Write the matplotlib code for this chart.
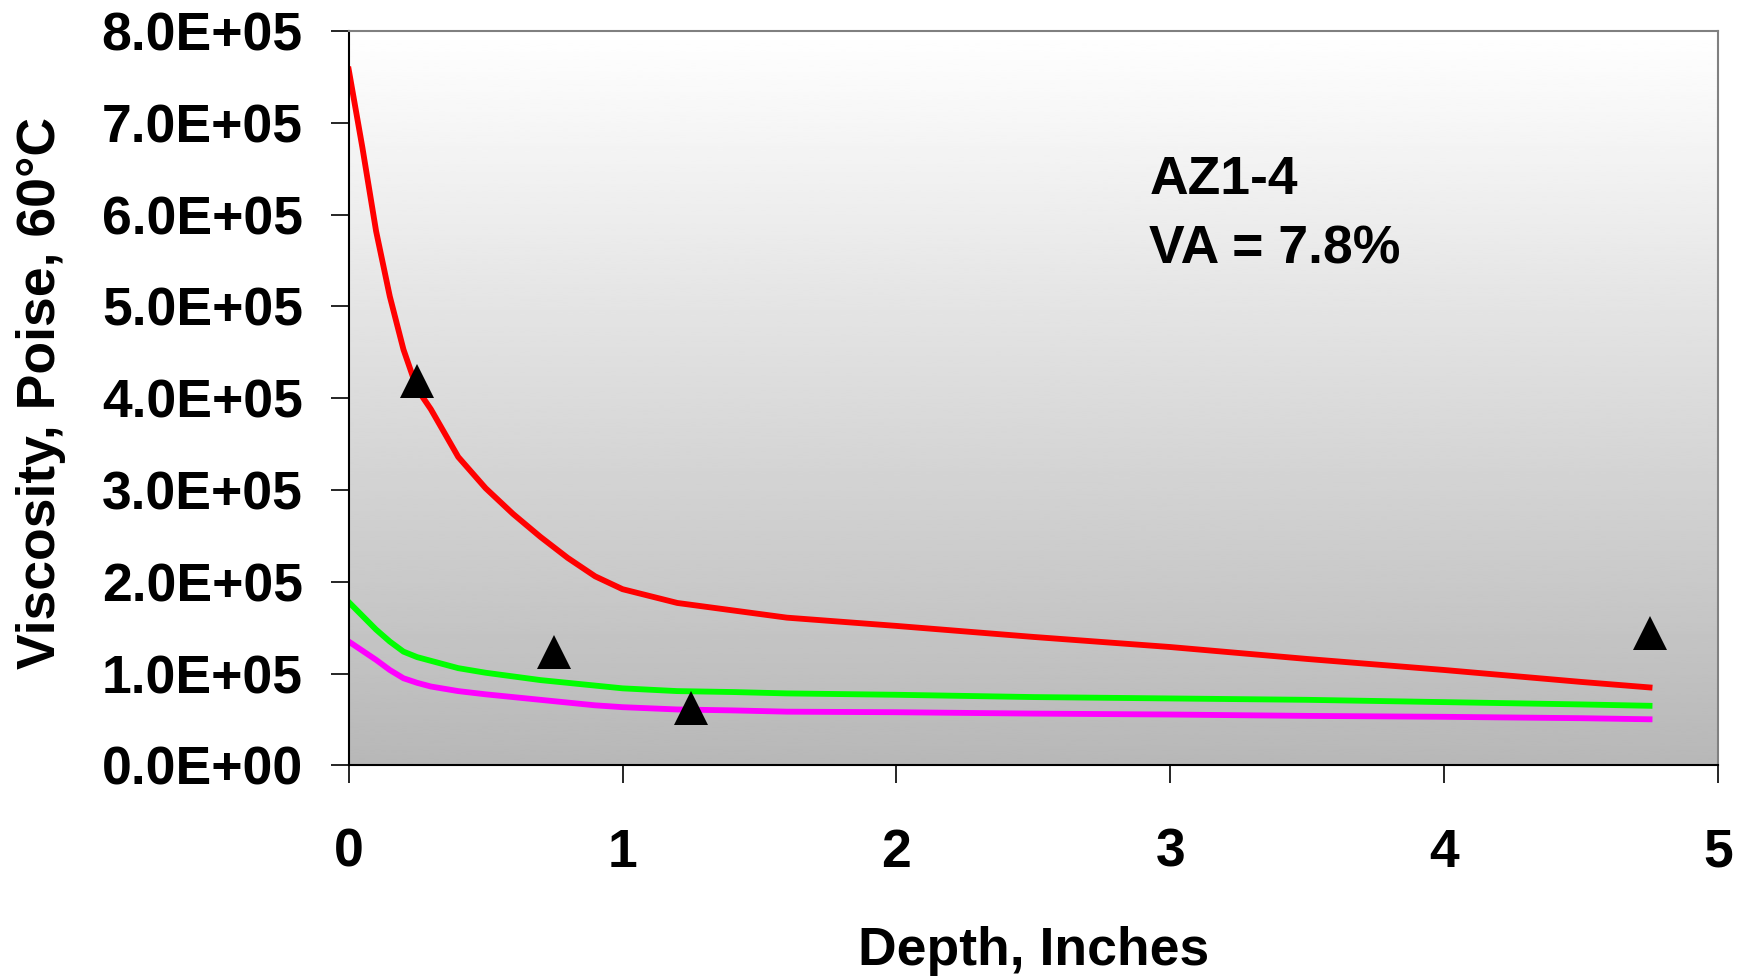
## Viscosity vs depth profile, AZ1-4
#----------------------------
import numpy as np
import matplotlib.pyplot as plt
from matplotlib.ticker import FuncFormatter, MultipleLocator

plt.rcParams['font.family'] = ['Liberation Sans', 'DejaVu Sans']
plt.rcParams['font.weight'] = 'bold'

# depth in inches, shared by the three model curves
depth = [0, 0.05, 0.1, 0.15, 0.2, 0.25, 0.3, 0.4, 0.5, 0.6, 0.7, 0.8, 0.9,
         1.0, 1.2, 1.4, 1.6, 2.0, 2.5, 3.0, 3.5, 4.0, 4.5, 4.75]

# viscosity at 60C, poise
visc_red = [7.58e5, 6.73e5, 5.82e5, 5.11e5, 4.53e5, 4.10e5, 3.88e5, 3.36e5,
            3.02e5, 2.74e5, 2.49e5, 2.26e5, 2.06e5, 1.92e5, 1.77e5, 1.69e5,
            1.61e5, 1.52e5, 1.40e5, 1.29e5, 1.16e5, 1.04e5, 0.91e5, 0.85e5]
visc_green = [1.78e5, 1.63e5, 1.48e5, 1.35e5, 1.24e5, 1.18e5, 1.14e5, 1.06e5,
              1.01e5, 0.97e5, 0.93e5, 0.90e5, 0.87e5, 0.84e5, 0.81e5, 0.80e5,
              0.785e5, 0.77e5, 0.745e5, 0.73e5, 0.715e5, 0.69e5, 0.665e5, 0.65e5]
visc_magenta = [1.35e5, 1.25e5, 1.15e5, 1.04e5, 0.95e5, 0.90e5, 0.86e5, 0.81e5,
                0.775e5, 0.745e5, 0.715e5, 0.685e5, 0.655e5, 0.635e5, 0.61e5, 0.60e5,
                0.586e5, 0.58e5, 0.565e5, 0.555e5, 0.54e5, 0.53e5, 0.515e5, 0.503e5]

# measured field cores
core_depth = [0.25, 0.75, 1.25, 4.75]
core_visc = [4.19e5, 1.24e5, 0.63e5, 1.44e5]

fig = plt.figure(figsize=(17.47, 9.76), dpi=100)
ax = fig.add_axes([0.1996, 0.2157, 0.7838, 0.7526])

# grey gradient behind the plot area, white at top
shade = np.linspace(0.72, 1.0, 256).reshape(-1, 1)
ax.imshow(shade, cmap='gray', vmin=0, vmax=1, origin='lower', aspect='auto',
          extent=[0, 5, 0, 8e5], zorder=0, interpolation='bilinear')

ax.plot(depth, visc_red, color='#ff0000', lw=4.2, zorder=2)
ax.plot(depth, visc_green, color='#00ff00', lw=4.2, zorder=2)
ax.plot(depth, visc_magenta, color='#ff00ff', lw=4.2, zorder=2)
ax.plot(core_depth, core_visc, linestyle='none', marker='^', ms=24.5,
        mew=0, color='black', zorder=3)

ax.set_xlim(0, 5)
ax.set_ylim(0, 8e5)
ax.xaxis.set_major_locator(MultipleLocator(1))
ax.yaxis.set_major_locator(MultipleLocator(1e5))
ax.yaxis.set_major_formatter(FuncFormatter(lambda v, pos: '%.1E' % v))

ax.tick_params(axis='both', direction='out', length=13, width=1.2,
               labelsize=38.5, colors='black')
ax.tick_params(axis='x', pad=32)
ax.tick_params(axis='y', pad=20)

for side in ['left', 'bottom']:
    ax.spines[side].set_color('black')
    ax.spines[side].set_linewidth(1.5)
for side in ['top', 'right']:
    ax.spines[side].set_color('#808080')
    ax.spines[side].set_linewidth(1.5)

ax.set_xlabel('Depth, Inches', fontsize=38.5, fontweight='bold')
ax.set_ylabel('Viscosity, Poise, 60°C', fontsize=38.5, fontweight='bold')
ax.xaxis.set_label_coords(0.5, -0.218)
ax.yaxis.set_label_coords(-0.2065, 0.507)

ax.text(2.924, 6.65e5, 'AZ1-4\nVA = 7.8%', fontsize=38.5, fontweight='bold',
        va='top', ha='left', linespacing=1.5)

plt.savefig('out.png', dpi=100)
